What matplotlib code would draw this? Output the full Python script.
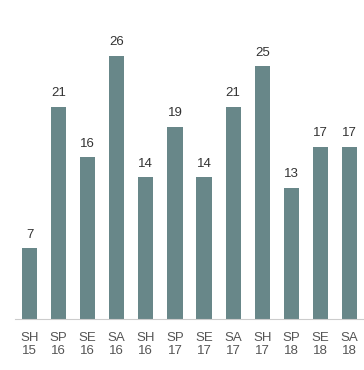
import matplotlib.pyplot as plt
import numpy as np

plt.rcParams['font.family'] = ['Liberation Sans', 'DejaVu Sans']

# season labels and counts
seasons = ['SH', 'SP', 'SE', 'SA', 'SH', 'SP', 'SE', 'SA', 'SH', 'SP', 'SE', 'SA']
years = ['15', '16', '16', '16', '16', '17', '17', '17', '17', '18', '18', '18']
counts = [7, 21, 16, 26, 14, 19, 14, 21, 25, 13, 17, 17]

fig = plt.figure(figsize=(3.64, 3.70), dpi=100)
ax = fig.add_axes([15 / 364, 51 / 370, 349 / 364, 0.82])

x = np.arange(len(counts))
bars = ax.bar(x, counts, width=0.52, color='#688789')

# value labels above each bar
for xi, v in zip(x, counts):
    ax.annotate(str(v), (xi, v), xytext=(0, 5.5), textcoords='offset points',
                ha='center', va='bottom', fontsize=9.5, color='#333333')

ax.set_xlim(-0.5, len(counts) - 0.5)
ax.set_ylim(0, 30)
ax.set_xticks(x)
ax.set_xticklabels([s + '\n' + y for s, y in zip(seasons, years)],
                   fontsize=9.5, color='#555555', linespacing=1.1)
ax.tick_params(axis='x', length=0, pad=9.5)
ax.set_yticks([])

for side in ['top', 'right', 'left']:
    ax.spines[side].set_visible(False)
ax.spines['bottom'].set_color('#cccccc')

fig.savefig('out.png', dpi=100)
